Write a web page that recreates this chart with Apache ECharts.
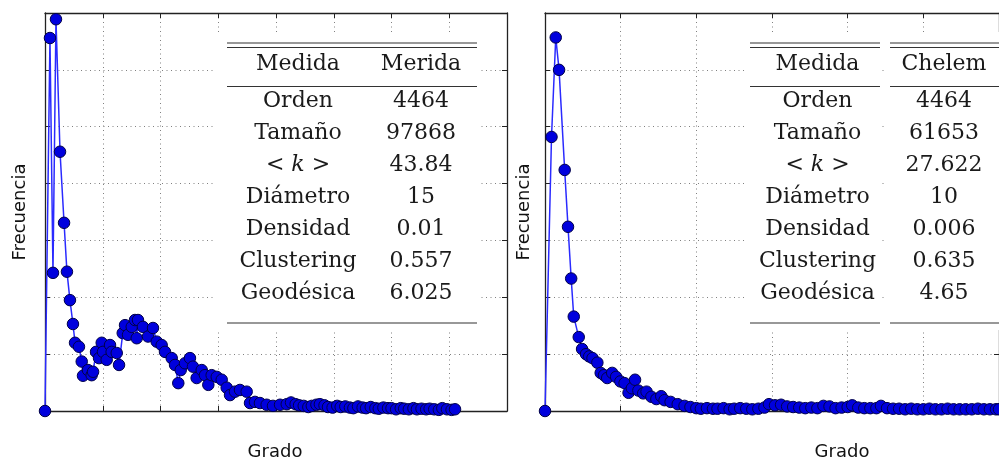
<!DOCTYPE html>
<html>
<head>
<meta charset="utf-8">
<script src="https://cdn.jsdelivr.net/npm/echarts@6/dist/echarts.min.js"></script>
<style>
html,body{margin:0;padding:0;background:#fff;}
#chart{width:999px;height:461px;}
</style>
</head>
<body>
<div id="chart"></div>
<script>
// ---- Data ----
const leftDegree = [0,4.3,6.9,9.5,13,16.5,19,21.6,24.2,26,29.4,31.8,32.9,37.2,40.4,41.6,44.2,46.8,49.1,50.2,53.4,56.3,57.7,62.1,64.1,67.3,69.3,71.9,75.1,77.9,79.4,80.5,84.8,89.2,93.5,96.7,101,103.9,109.7,112.6,115.4,117.5,121.2,125.5,128.1,131.3,135.7,138.5,141.4,144.3,148.7,153,157.3,160.2,164.5,168.8,174.6,177.5,181.8,186.1,191.9,197.4,203.5,209.3,213,217,220,224,228,231,235,238,242,245,249,253,256,260,264,267,271,275,278,282,286,289,293,297,300,304,308,311,315,319,322,326,330,333,337,341,344,348,352,355];
const leftFreq   = [0,656,243,689,456,331,245,195,153,120,113,87,62,72,63,69,104,93,120,104,90,116,104,102,81,137,151,134,148,160,128,160,148,131,146,122,116,104,93,81,49,72,84,93,78,58,72,63,46,63,60,55,41,28,34,37,34,14,16,14,11,9,11,12,15,12,10,9,7,9,11,12,10,7,6,9,7,8,6,5,8,6,5,7,5,4,6,5,5,3,5,4,3,5,3,4,3,4,3,2,5,3,2,3];

const rightDegree = [0,4.3,7.1,9.3,13,15.2,17.3,19,22.3,24.5,27.1,29.2,31.4,34.6,36.8,39,41.1,44.4,47,49.8,52.6,55.2,57.4,59.5,61.7,64.9,67.1,70.3,73.6,76.8,79,83,87.7,92.2,96.1,100,103,107,111,114,118,122,125,129,133,137,141,145,148,152,156,160,164,168,172,176,180,184,188,192,196,200,203,207,211,215,219,222,226,230,234,238,242,246,250,254,258,262,266,270,274,278,282,286,290,294,298,300];
const rightFreq   = [0,482,657,600,424,324,233,166,130,109,100,96,93,85,67,63,58,67,60,52,49,32,40,55,36,31,34,25,21,26,19,16,12,9,7,5,4,5,4,4,5,3,4,5,4,3,4,6,12,10,11,8,7,6,5,6,5,9,8,5,6,7,10,6,5,5,5,9,5,4,4,3,4,3,3,4,3,3,4,3,3,3,3,4,3,3,3,3];

const measures      = ['Orden','Tamaño','< {i|k} >','Diámetro','Densidad','Clustering','Geodésica'];
const meridaValues  = ['4464','97868','43.84','15','0.01','0.557','6.025'];
const chelemValues  = ['4464','61653','27.622','10','0.006','0.635','4.65'];
const headerLeft    = ['Medida','Merida'];
const headerRight   = ['Medida','Chelem'];
const xLabel = 'Grado';
const yLabel = 'Frecuencia';

// ---- Build ----
function pairs(xs, ys){ return xs.map((x,i)=>[x, ys[i]]); }

const spine = {show:true, onZero:false, lineStyle:{color:'#222', width:1.3}};
const ticks = {show:true, inside:true, length:5, lineStyle:{color:'#222', width:1}};
const grid  = {show:true, lineStyle:{color:'#808080', width:1, type:[1,3.5]}};

function xAx(gi, max, pos, sl){
  return {gridIndex:gi, type:'value', min:0, max:max, interval:50, position:pos,
    axisLine:spine, axisTick:ticks, axisLabel:{show:false}, splitLine: sl?grid:{show:false}};
}
function yAx(gi, pos, sl){
  return {gridIndex:gi, type:'value', min:0, max:700, interval:100, position:pos,
    axisLine:spine, axisTick:ticks, axisLabel:{show:false}, splitLine: sl?grid:{show:false}};
}

const serif = 'DejaVu Serif';
const txtStyle = {fontFamily:serif, fontSize:22, fill:'#1a1a1a', align:'center', verticalAlign:'middle',
  rich:{i:{fontFamily:serif, fontSize:22, fontStyle:'italic', fill:'#1a1a1a'}}};

function tableGraphics(cols, header, valCol, segs, boxes){
  const g = [];
  boxes.forEach(b=>g.push({type:'rect', z:100, shape:{x:b[0],y:b[1],width:b[2],height:b[3]}, style:{fill:'#fff'}}));
  const line = (x1,x2,y,w)=>g.push({type:'line', z:101, shape:{x1:x1,y1:y,x2:x2,y2:y}, style:{stroke:'#333', lineWidth:w}});
  segs.forEach(s=>{ line(s[0],s[1],43,1.2); line(s[0],s[1],47.5,1.2); line(s[0],s[1],86.5,1); line(s[0],s[1],323,1.2); });
  const t = (s,x,y)=>g.push({type:'text', z:102, x:x, y:y, style:Object.assign({}, txtStyle, {text:s})});
  t(header[0], cols[0], 64); t(header[1], cols[1], 64);
  measures.forEach((m,i)=>{ t(m, cols[0], 101.5 + i*32); t(valCol[i], cols[1], 101.5 + i*32); });
  return g;
}

const labelStyle = {fontFamily:'DejaVu Sans', fontSize:18, fill:'#111', align:'center', verticalAlign:'middle'};
const graphics = [].concat(
  tableGraphics([298,421], headerLeft, meridaValues, [[227,477]], [[213,32,268,298]]),
  tableGraphics([817.5,944], headerRight, chelemValues, [[750,880],[890,1010]], [[745,32,137,298],[886,32,130,298]]),
  [
    {type:'text', z:102, x:275, y:452, style:Object.assign({}, labelStyle, {text:xLabel})},
    {type:'text', z:102, x:842, y:452, style:Object.assign({}, labelStyle, {text:xLabel})},
    {type:'text', z:102, x:20.5, y:212, rotation:Math.PI/2, style:Object.assign({}, labelStyle, {text:yLabel})},
    {type:'text', z:102, x:524.5, y:212, rotation:Math.PI/2, style:Object.assign({}, labelStyle, {text:yLabel})}
  ]
);

const seriesStyle = {
  type:'line', symbol:'circle', symbolSize:11.5, showAllSymbol:true, animation:false,
  lineStyle:{color:'#2a2aff', width:1.5},
  itemStyle:{color:'#0000dd', borderColor:'#00004a', borderWidth:1}
};

const option = {
  animation:false,
  backgroundColor:'#fff',
  grid:[
    {left:45, top:13, width:462, height:398},
    {left:545, top:13, width:462, height:398}
  ],
  xAxis:[ xAx(0,400,'bottom',true), xAx(0,400,'top',false), xAx(1,300,'bottom',true), xAx(1,300,'top',false) ],
  yAxis:[ yAx(0,'left',true), yAx(0,'right',false), yAx(1,'left',true), yAx(1,'right',false) ],
  series:[
    Object.assign({}, seriesStyle, {xAxisIndex:0, yAxisIndex:0, data:pairs(leftDegree, leftFreq)}),
    Object.assign({}, seriesStyle, {xAxisIndex:2, yAxisIndex:2, data:pairs(rightDegree, rightFreq)})
  ],
  graphic: graphics
};

const chart = echarts.init(document.getElementById('chart'), null, {renderer:'canvas'});
chart.setOption(option);
</script>
</body>
</html>
